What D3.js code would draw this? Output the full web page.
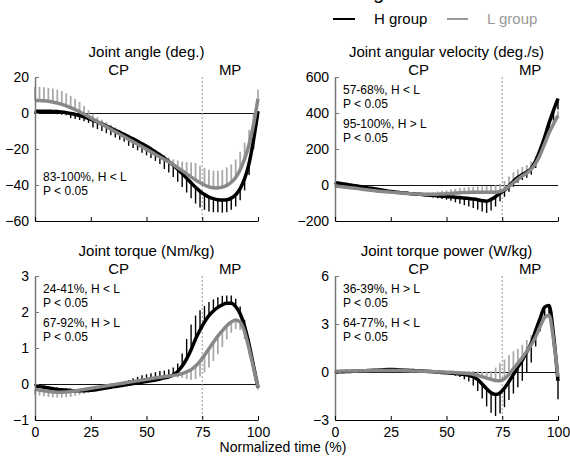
<!DOCTYPE html>
<html>
<head>
<meta charset="utf-8">
<script src="https://cdn.jsdelivr.net/npm/d3@7"></script>
<style>
body { margin: 0; background: #fff; }
text { font-family: "Liberation Sans", Arial, sans-serif; }
</style>
</head>
<body>
<svg id="chart" width="570" height="459"></svg>
<script>
// normalized time (%), one sample every 2 %
var time = d3.range(0, 101, 2);

// joint angle (deg.)
var angleH = [1.0, 1.0, 1.0, 1.0, 0.9, 0.8, 0.5, 0.2, -0.3, -0.8, -1.4, -2.1, -3.0, -4.0, -5.0, -6.0, -7.2, -8.4, -9.6, -10.8, -12.0, -13.2, -14.4, -15.7, -17.1, -18.5, -20.0, -21.6, -23.3, -25.1, -27.0, -29.0, -31.2, -33.6, -36.2, -38.8, -41.3, -43.5, -45.3, -46.7, -47.6, -48.2, -48.4, -48.2, -47.3, -45.4, -42.0, -36.5, -28.0, -15.0, 1.0];
var angleL = [7.0, 7.0, 6.8, 6.5, 6.1, 5.5, 4.8, 4.0, 3.0, 1.9, 0.7, -0.6, -2.0, -3.4, -4.8, -6.2, -7.6, -9.0, -10.4, -11.8, -13.2, -14.6, -16.0, -17.4, -18.8, -20.2, -21.6, -23.0, -24.4, -25.8, -27.2, -28.8, -30.4, -32.0, -33.8, -35.5, -37.2, -38.8, -40.0, -41.0, -41.5, -41.6, -41.2, -40.2, -38.5, -35.8, -31.5, -25.5, -17.5, -6.5, 8.0];
var angleHsd = [1.5, 1.5, 1.5, 1.5, 1.5, 1.5, 1.5, 1.5, 2.5, 2.5, 2.5, 2.5, 2.5, 4, 4, 4, 4, 4, 4, 4, 4, 5, 5, 5, 5, 5, 5, 5, 5, 6, 6, 6.5, 7, 7.5, 8, 8.5, 9, 9, 8.5, 8, 7.5, 7, 7, 7, 6.5, 6.5, 6.5, 6.5, 6.5, 5, 4];
var angleLsd = [7.5, 7.5, 7.5, 7.5, 7.5, 7.5, 7.5, 7, 6.5, 6, 5.5, 4.5, 3.5, 2.5, 2.5, 2.5, 2.5, 2.5, 2.5, 2.5, 2.5, 2.5, 2.5, 2.5, 2.5, 2.5, 2.5, 2.5, 2.5, 2.5, 2.5, 3, 4, 5, 6.5, 8, 9.5, 9.5, 9.5, 9.5, 9.5, 9.5, 9.5, 10, 10, 10, 10, 9, 8, 6, 5];

// joint angular velocity (deg./s)
var velH = [13, 10, 6, 2, -2, -6, -10, -14, -18, -22, -26, -30, -34, -37, -40, -43, -45, -48, -50, -52, -54, -56, -58, -60, -62, -64, -66, -68, -70, -72, -75, -78, -82, -87, -90, -80, -65, -45, -28, -5, 20, 42, 58, 72, 93, 135, 195, 265, 345, 415, 480];
var velL = [-5, -8, -11, -14, -17, -20, -23, -26, -29, -32, -35, -37, -39, -41, -43, -45, -47, -49, -50, -51, -52, -52, -52, -51, -50, -49, -47, -45, -43, -42, -41, -40, -40, -40, -40, -40, -40, -36, -25, -8, 12, 32, 50, 66, 88, 120, 168, 228, 290, 340, 385];
var velHsd = [8, 8, 8, 8, 8, 8, 8, 8, 8, 8, 8, 8, 8, 8, 8, 8, 8, 8, 8, 8, 8, 10, 12, 14, 16, 18, 22, 28, 34, 40, 45, 50, 55, 60, 65, 62, 55, 45, 38, 32, 30, 30, 30, 32, 36, 40, 42, 45, 50, 55, 60];
var velLsd = [8, 8, 8, 8, 8, 8, 8, 8, 8, 8, 8, 8, 8, 8, 8, 8, 8, 8, 8, 8, 8, 10, 12, 15, 18, 20, 22, 24, 26, 28, 30, 30, 32, 32, 34, 35, 38, 42, 48, 55, 58, 55, 50, 45, 42, 40, 36, 32, 30, 28, 25];

// joint torque (Nm/kg)
var torqueH = [-0.05, -0.07, -0.09, -0.11, -0.13, -0.15, -0.16, -0.17, -0.18, -0.19, -0.19, -0.19, -0.18, -0.17, -0.15, -0.13, -0.11, -0.09, -0.07, -0.05, -0.03, -0.01, 0.01, 0.03, 0.05, 0.07, 0.09, 0.11, 0.14, 0.17, 0.2, 0.26, 0.35, 0.5, 0.7, 0.95, 1.25, 1.5, 1.72, 1.9, 2.03, 2.13, 2.2, 2.24, 2.24, 2.15, 1.95, 1.6, 1.1, 0.5, -0.1];
var torqueL = [-0.15, -0.17, -0.19, -0.21, -0.22, -0.23, -0.23, -0.22, -0.21, -0.19, -0.17, -0.15, -0.13, -0.11, -0.09, -0.07, -0.05, -0.03, -0.01, 0.01, 0.03, 0.05, 0.07, 0.09, 0.11, 0.13, 0.15, 0.17, 0.19, 0.21, 0.22, 0.24, 0.26, 0.29, 0.34, 0.4, 0.5, 0.63, 0.8, 0.98, 1.16, 1.33, 1.48, 1.62, 1.72, 1.78, 1.72, 1.45, 0.98, 0.45, -0.1];
var torqueHsd = [0.05, 0.05, 0.05, 0.05, 0.05, 0.05, 0.05, 0.05, 0.05, 0.05, 0.05, 0.05, 0.05, 0.05, 0.05, 0.05, 0.05, 0.05, 0.05, 0.08, 0.1, 0.12, 0.15, 0.17, 0.19, 0.2, 0.21, 0.22, 0.22, 0.2, 0.2, 0.2, 0.22, 0.35, 0.55, 0.7, 0.65, 0.55, 0.45, 0.38, 0.32, 0.28, 0.25, 0.22, 0.22, 0.22, 0.2, 0.18, 0.15, 0.1, 0.05];
var torqueLsd = [0.15, 0.15, 0.15, 0.15, 0.15, 0.15, 0.15, 0.15, 0.15, 0.14, 0.13, 0.12, 0.11, 0.1, 0.09, 0.08, 0.07, 0.06, 0.05, 0.05, 0.05, 0.05, 0.05, 0.05, 0.05, 0.05, 0.05, 0.05, 0.05, 0.05, 0.05, 0.06, 0.08, 0.12, 0.2, 0.28, 0.36, 0.42, 0.48, 0.52, 0.52, 0.5, 0.45, 0.38, 0.3, 0.25, 0.22, 0.2, 0.15, 0.1, 0.05];

// joint torque power (W/kg)
var powerH = [0.0, 0.01, 0.02, 0.03, 0.04, 0.05, 0.06, 0.08, 0.1, 0.11, 0.12, 0.14, 0.15, 0.15, 0.14, 0.12, 0.11, 0.1, 0.08, 0.06, 0.05, 0.03, 0.02, 0.0, -0.03, -0.05, -0.07, -0.09, -0.12, -0.16, -0.2, -0.3, -0.48, -0.75, -1.05, -1.3, -1.4, -1.3, -1.0, -0.6, -0.15, 0.3, 0.75, 1.25, 1.8, 2.6, 3.35, 4.05, 4.15, 2.3, -0.55];
var powerL = [0.05, 0.05, 0.06, 0.06, 0.07, 0.07, 0.08, 0.08, 0.09, 0.09, 0.1, 0.1, 0.1, 0.1, 0.1, 0.09, 0.08, 0.07, 0.06, 0.05, 0.04, 0.03, 0.02, 0.01, 0.0, -0.01, -0.02, -0.04, -0.06, -0.08, -0.1, -0.15, -0.22, -0.3, -0.38, -0.46, -0.53, -0.55, -0.42, -0.15, 0.2, 0.55, 0.9, 1.3, 1.7, 2.2, 2.85, 3.4, 3.55, 2.0, -0.3];
var powerHsd = [0.05, 0.05, 0.05, 0.05, 0.05, 0.05, 0.05, 0.05, 0.05, 0.05, 0.05, 0.05, 0.05, 0.05, 0.05, 0.05, 0.05, 0.05, 0.05, 0.05, 0.05, 0.05, 0.05, 0.05, 0.05, 0.08, 0.1, 0.15, 0.2, 0.3, 0.4, 0.55, 0.7, 0.9, 1.1, 1.25, 1.35, 1.3, 1.2, 1.15, 1.2, 1.25, 1.3, 1.25, 1.2, 1.0, 0.8, 0.6, 0.5, 0.8, 1.15];
var powerLsd = [0.05, 0.05, 0.05, 0.05, 0.05, 0.05, 0.05, 0.05, 0.05, 0.05, 0.05, 0.05, 0.05, 0.05, 0.05, 0.05, 0.05, 0.05, 0.05, 0.05, 0.05, 0.05, 0.05, 0.05, 0.05, 0.06, 0.07, 0.08, 0.1, 0.12, 0.15, 0.2, 0.25, 0.3, 0.4, 0.5, 0.8, 1.1, 1.2, 1.2, 1.1, 0.9, 0.8, 0.7, 0.6, 0.5, 0.45, 0.4, 0.35, 0.3, 0.2];

var xTicks = [0, 25, 50, 75, 100];
var groups = ["H group", "L group"];

var panels = [
	{ title: "Joint angle (deg.)", left: 35, top: 77, domain: [-60, 20], ticks: [20, 0, -20, -40, -60],
	  H: angleH, Hsd: angleHsd, Hdir: -1, L: angleL, Lsd: angleLsd, Ldir: 1,
	  notes: [["83-100%, H < L", "P < 0.05"]], noteY: 104, xLabels: false },
	{ title: "Joint angular velocity (deg./s)", left: 335, top: 77, domain: [-200, 600], ticks: [600, 400, 200, 0, -200],
	  H: velH, Hsd: velHsd, Hdir: -1, L: velL, Lsd: velLsd, Ldir: 1,
	  notes: [["57-68%, H < L", "P < 0.05"], ["95-100%, H > L", "P < 0.05"]], noteY: 17, xLabels: false },
	{ title: "Joint torque (Nm/kg)", left: 35, top: 276, domain: [-1, 3], ticks: [3, 2, 1, 0, -1],
	  H: torqueH, Hsd: torqueHsd, Hdir: 1, L: torqueL, Lsd: torqueLsd, Ldir: -1,
	  notes: [["24-41%, H < L", "P < 0.05"], ["67-92%, H > L", "P < 0.05"]], noteY: 17, xLabels: true },
	{ title: "Joint torque power (W/kg)", left: 335, top: 276, domain: [-3, 6], ticks: [6, 3, 0, -3],
	  H: powerH, Hsd: powerHsd, Hdir: -1, L: powerL, Lsd: powerLsd, Ldir: 1,
	  notes: [["36-39%, H > L", "P < 0.05"], ["64-77%, H < L", "P < 0.05"]], noteY: 17, xLabels: true }
];

var W = 223, H = 144;
var svg = d3.select("#chart");

// cropped text above the legend (cut by the top edge, as in the source figure)
svg.append("text").attr("x", 373).attr("y", -1.5).attr("font-size", 20).attr("fill", "#000").text("g");

// legend
var legend = svg.append("g");
legend.append("line").attr("x1", 333).attr("x2", 355).attr("y1", 19).attr("y2", 19)
	.attr("stroke", "#000").attr("stroke-width", 2);
legend.append("text").attr("x", 374).attr("y", 24).attr("font-size", 15).attr("fill", "#000").text(groups[0]);
legend.append("line").attr("x1", 447).attr("x2", 468).attr("y1", 19).attr("y2", 19)
	.attr("stroke", "#999").attr("stroke-width", 2);
legend.append("text").attr("x", 487).attr("y", 24).attr("font-size", 15).attr("fill", "#999").text(groups[1]);

function drawPanel(p) {
	var x = d3.scaleLinear().domain([0, 100]).range([p.left, p.left + W]);
	var y = d3.scaleLinear().domain(p.domain).range([p.top + H, p.top]);
	var g = svg.append("g");

	// title and phase labels
	g.append("text").attr("x", p.left + W / 2).attr("y", p.top - 20).attr("text-anchor", "middle")
		.attr("font-size", 15).text(p.title);
	g.append("text").attr("x", x(37.5)).attr("y", p.top - 2).attr("text-anchor", "middle")
		.attr("font-size", 15).text("CP");
	g.append("text").attr("x", x(87.5)).attr("y", p.top - 2).attr("text-anchor", "middle")
		.attr("font-size", 15).text("MP");

	// zero line and phase boundary
	g.append("line").attr("x1", x(0)).attr("x2", x(100)).attr("y1", y(0) + 0.5).attr("y2", y(0) + 0.5)
		.attr("stroke", "#111").attr("stroke-width", 1);
	g.append("line").attr("x1", x(75)).attr("x2", x(75)).attr("y1", p.top).attr("y2", p.top + H)
		.attr("stroke", "#999").attr("stroke-width", 1).attr("stroke-dasharray", "2,2");

	// SD bars
	function bars(mean, sd, dir, color, w) {
		g.append("g").selectAll("line").data(time).join("line")
			.attr("x1", function(t) { return x(t); })
			.attr("x2", function(t) { return x(t); })
			.attr("y1", function(t, i) { return y(mean[i]); })
			.attr("y2", function(t, i) { return y(mean[i] + dir * sd[i]); })
			.attr("stroke", color).attr("stroke-width", w);
	}
	bars(p.L, p.Lsd, p.Ldir, "#aaa", 1.8);
	bars(p.H, p.Hsd, p.Hdir, "#000", 1.4);

	// mean curves
	function curve(mean, color) {
		var line = d3.line()
			.x(function(t) { return x(t); })
			.y(function(t, i) { return y(mean[i]); })
			.curve(d3.curveMonotoneX);
		g.append("path").datum(time).attr("d", line)
			.attr("fill", "none").attr("stroke", color).attr("stroke-width", 3.5);
	}
	curve(p.H, "#000");
	curve(p.L, "#888");

	// axes
	var yAxis = g.append("g").attr("transform", "translate(" + p.left + ",0)")
		.call(d3.axisLeft(y).tickValues(p.ticks).tickFormat(d3.format("d"))
			.tickSizeInner(-4).tickSizeOuter(0).tickPadding(6));
	yAxis.select(".domain").attr("stroke", "#777").attr("stroke-width", 1.5);
	yAxis.selectAll(".tick line").attr("stroke", "#777");
	yAxis.selectAll("text").attr("font-size", 14).attr("font-family", null).attr("fill", "#000");

	var xAxis = g.append("g").attr("transform", "translate(0," + (p.top + H) + ")")
		.call(d3.axisBottom(x).tickValues(xTicks).tickSizeInner(-4).tickSizeOuter(0).tickPadding(7)
			.tickFormat(p.xLabels ? d3.format("d") : function() { return ""; }));
	xAxis.select(".domain").attr("stroke", "#000").attr("stroke-width", 1);
	xAxis.selectAll(".tick line").attr("stroke", "#000");
	xAxis.selectAll("text").attr("font-size", 14).attr("font-family", null).attr("fill", "#000");

	// significance notes
	p.notes.forEach(function(n, k) {
		n.forEach(function(s, j) {
			g.append("text").attr("x", p.left + 8).attr("y", p.top + p.noteY + k * 34 + j * 13.5)
				.attr("font-size", 12).text(s);
		});
	});
}

panels.forEach(drawPanel);

svg.append("text").attr("x", 283).attr("y", 452).attr("text-anchor", "middle")
	.attr("font-size", 14).text("Normalized time (%)");
</script>
</body>
</html>
